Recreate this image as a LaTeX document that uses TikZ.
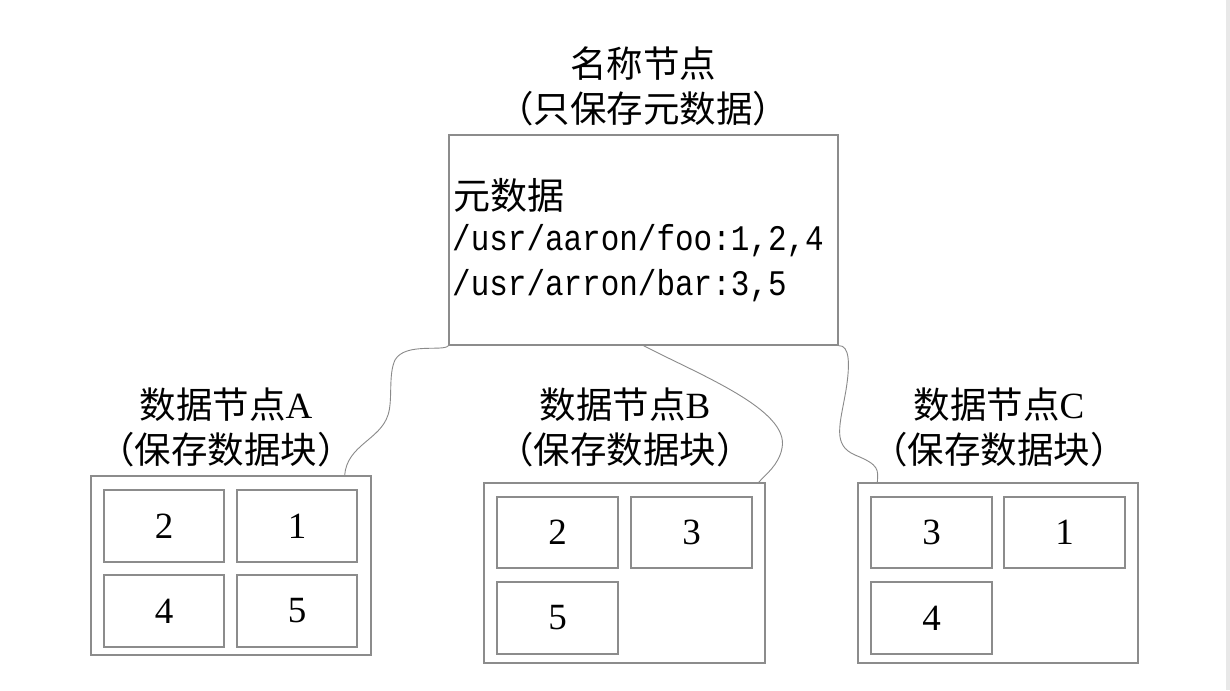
\documentclass[tikz,border=0pt]{standalone}
\usepackage{fontspec}
\setmainfont{Liberation Serif}
\newfontfamily\cjk{Noto Sans CJK SC}
\newfontfamily\monof[FakeStretch=0.86]{Liberation Mono}
\usetikzlibrary{calc}
\definecolor{boxgray}{HTML}{8C8C8C}
\definecolor{linkgray}{HTML}{8A8A8A}
\definecolor{bandgray}{HTML}{E8E8E8}
\begin{document}
\begin{tikzpicture}[x=1pt,y=-1pt,
  box/.style={draw=boxgray, line width=1.3pt, inner sep=0pt},
  blk/.style={box, minimum width=120pt, minimum height=72pt, font=\fontsize{37}{40}\selectfont},
  link/.style={draw=linkgray, line width=0.9pt},
  lbl/.style={font=\fontsize{36.5}{45}\selectfont\cjk, align=center, inner sep=0pt},
  meta/.style={anchor=west, inner sep=0pt}]
\useasboundingbox[fill=white] (0,0) rectangle (1230,690);
\fill[bandgray] (1226,0) rectangle (1230,690);

% name node
\node[lbl] (title) at (643,86) {名称节点\\（只保存元数据）};
\node[box, minimum width=389pt, minimum height=210pt] (nn) at (643.5,240) {};
\node[meta, font=\fontsize{37}{40}\selectfont\cjk] (m1) at (453,195) {元数据};
\node[meta, anchor=base west, font=\fontsize{36}{40}\selectfont\monof] (m2) at (452,250) {/usr/aaron/foo:1,2,4};
\node[meta, anchor=base west, font=\fontsize{36}{40}\selectfont\monof] (m3) at (452,295) {/usr/arron/bar:3,5};

% data node A
\node[lbl] (la) at (226,427.5) {数据节点{\fontsize{37}{40}\selectfont\rmfamily A}\\（保存数据块）};
\node[box, minimum width=280pt, minimum height=179pt] (A) at (231,565.5) {};
\node[blk] (a1) at (164,526) {2};
\node[blk] (a2) at (297,526) {1};
\node[blk] (a3) at (164,611) {4};
\node[blk] (a4) at (297,611) {5};

% data node B
\node[lbl] (lb) at (625,427.5) {数据节点{\fontsize{37}{40}\selectfont\rmfamily B}\\（保存数据块）};
\node[box, minimum width=281pt, minimum height=180pt] (B) at (624.5,573) {};
\node[blk, minimum width=121pt, minimum height=71pt] (b1) at (557.5,532.5) {2};
\node[blk, minimum width=121pt, minimum height=71pt] (b2) at (691.5,532.5) {3};
\node[blk, minimum width=121pt, minimum height=72pt] (b3) at (557.5,618) {5};

% data node C
\node[lbl] (lc) at (999,427.5) {数据节点{\fontsize{37}{40}\selectfont\rmfamily C}\\（保存数据块）};
\node[box, minimum width=280pt, minimum height=180pt] (C) at (998,573) {};
\node[blk, minimum width=121pt, minimum height=71pt] (c1) at (931.5,532.5) {3};
\node[blk, minimum width=121pt, minimum height=71pt] (c2) at (1064.5,532.5) {1};
\node[blk, minimum width=121pt, minimum height=72pt] (c3) at (931.5,618) {4};

% connectors
\coordinate (ea) at ($(A.north east)+(-27,0)$);
\coordinate (eb) at ($(B.north east)+(-7,0)$);
\coordinate (ec) at ($(C.north west)+(20,0)$);
\draw[link] (nn.south west) .. controls (444,352) and (405,342) .. (395,360)
  .. controls (388,375) and (393,400) .. (388,415)
  .. controls (380,440) and (347,445) .. (ea);
\draw[link] (nn.south) .. controls (700,375) and (790,410) .. (782,448)
  .. controls (779,465) and (765,475) .. (eb);
\draw[link] (nn.south east) .. controls (850,345) and (850,365) .. (846,390)
  .. controls (840,425) and (832,445) .. (855,455)
  .. controls (880,465) and (878,470) .. (ec);
\end{tikzpicture}
\end{document}
